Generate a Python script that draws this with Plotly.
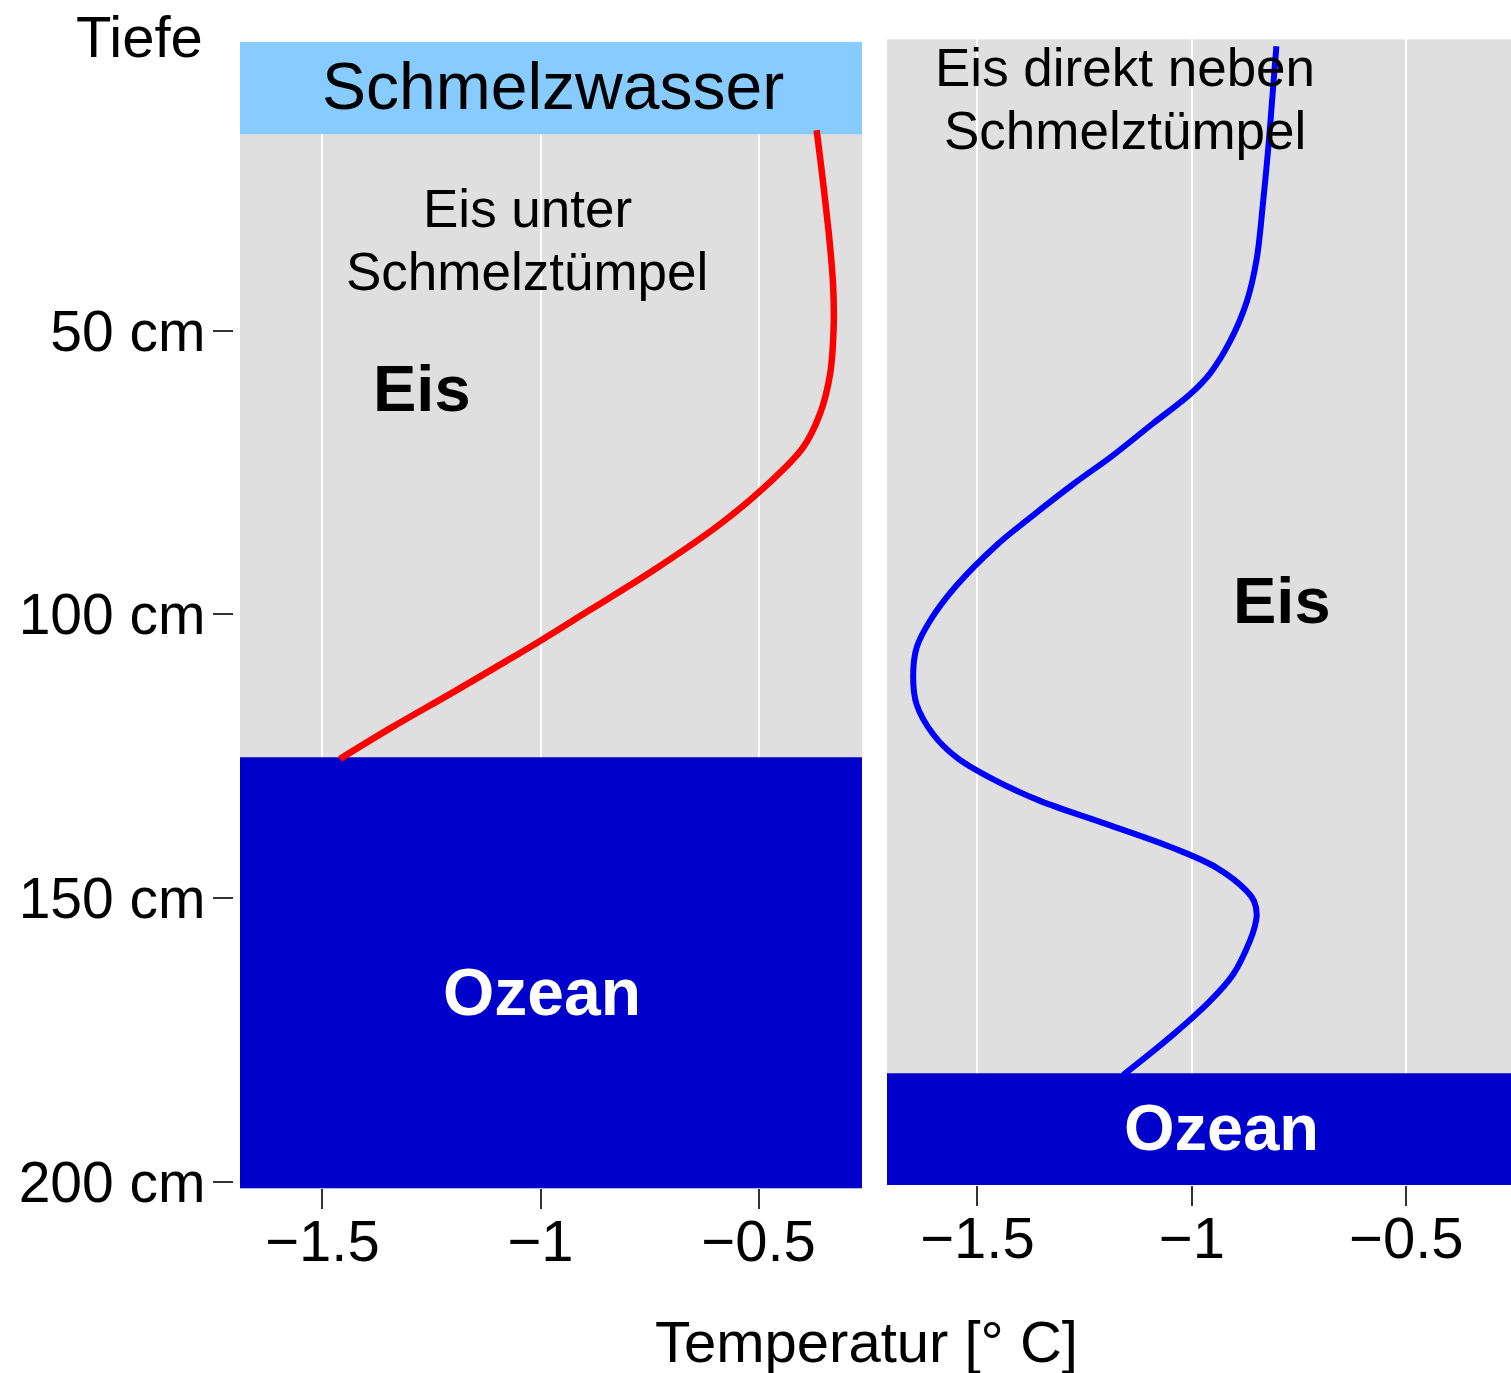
import plotly.graph_objects as go

# ---------------- data ----------------
# left panel: ice under a melt pond
red_depth = [14.7, 24.7, 35.3, 42.4, 49.4, 57.6, 64.6, 70.6, 77.0, 84.1, 92.3,
             99.4, 104.7, 113.5, 119.9, 125.5]
red_temp = [-0.367, -0.351, -0.336, -0.329, -0.328, -0.336, -0.359, -0.398, -0.478,
            -0.588, -0.742, -0.890, -1.001, -1.195, -1.340, -1.460]

# right panel: ice directly next to a melt pond
blue_depth = [-0.1, 6.5, 17.9, 27.3, 37.4, 44.9, 51.9, 57.6, 61.3, 66.4, 72.0, 77.1,
              82.8, 87.8, 95.3, 101.2, 105.9, 111.2, 115.9, 121.2, 125.3, 128.8, 132.9,
              137.0, 141.2, 144.7, 148.8, 150.6, 152.9, 154.9, 157.6, 163.5, 168.2,
              174.1, 181.2]
blue_temp = [-0.803, -0.810, -0.822, -0.834, -0.849, -0.872, -0.911, -0.958, -1.005,
             -1.091, -1.184, -1.277, -1.374, -1.455, -1.553, -1.611, -1.642, -1.650,
             -1.642, -1.603, -1.548, -1.471, -1.354, -1.199, -1.044, -0.942, -0.872,
             -0.855, -0.849, -0.853, -0.865, -0.904, -0.958, -1.044, -1.160]

# layer boundaries (depth in cm)
left_meltwater = [-0.9, 15.4]
left_ocean = [125.2, 201.2]
right_ocean = [180.9, 200.6]

depth_ticks = [50, 100, 150, 200]
depth_labels = ["50 cm", "100 cm", "150 cm", "200 cm"]
temp_ticks = [-1.5, -1, -0.5]

# axis ranges
left_xrange = [-1.689, -0.263]
right_xrange = [-1.711, -0.256]
left_yrange = [201.2, -0.9]
right_yrange = [200.6, -1.3]

FONT = "Liberation Sans, Arial, Helvetica, sans-serif"
W, H = 1511, 1400
VIEW_H = 1373
GRAY = "#DFDFDF"
MELT = "#88CCFF"
OCEAN = "#0000CC"


def fy(py):
    """row in the 1373-px tall picture (from top) -> paper fraction"""
    return 1 - py / VIEW_H


fig = go.Figure()
fig.add_trace(go.Scatter(x=red_temp, y=red_depth, mode="lines", xaxis="x", yaxis="y",
                         line=dict(color="#FF0000", width=6.5, shape="spline", smoothing=1.0),
                         showlegend=False, hoverinfo="skip"))
fig.add_trace(go.Scatter(x=blue_temp, y=blue_depth, mode="lines", xaxis="x2", yaxis="y2",
                         line=dict(color="#0000FF", width=6, shape="spline", smoothing=1.0),
                         showlegend=False, hoverinfo="skip"))

shapes = [
    dict(type="rect", xref="x", yref="y", x0=left_xrange[0], x1=left_xrange[1],
         y0=left_meltwater[0], y1=left_meltwater[1], fillcolor=MELT,
         line=dict(width=0), layer="between"),
    dict(type="rect", xref="x", yref="y", x0=left_xrange[0], x1=left_xrange[1],
         y0=left_ocean[0], y1=left_ocean[1], fillcolor=OCEAN,
         line=dict(width=0), layer="between"),
    dict(type="rect", xref="x2", yref="y2", x0=right_xrange[0], x1=right_xrange[1],
         y0=right_ocean[0], y1=right_ocean[1], fillcolor=OCEAN,
         line=dict(width=0), layer="between"),
]

def ann(text, x, y, xref, yref, size, color="black", bold=False, xanchor="center",
        yanchor="middle"):
    if bold:
        text = "<b>" + text + "</b>"
    return dict(text=text, x=x, y=y, xref=xref, yref=yref, showarrow=False,
                font=dict(family=FONT, size=size, color=color), xanchor=xanchor,
                yanchor=yanchor, align="center")

annotations = [
    ann("Tiefe", 205 / W, fy(36), "paper", "paper", 58, xanchor="right"),
    ann("Schmelzwasser", -0.971, 6.9, "x", "y", 66),
    ann("Eis unter", -1.031, 28.5, "x", "y", 53),
    ann("Schmelztümpel", -1.031, 39.6, "x", "y", 53),
    ann("Eis", -1.272, 60.3, "x", "y", 65, bold=True),
    ann("Ozean", -0.997, 166.6, "x", "y", 66, color="white", bold=True),
    ann("Eis direkt neben", -1.156, 3.7, "x2", "y2", 53),
    ann("Schmelztümpel", -1.156, 14.8, "x2", "y2", 53),
    ann("Eis", -0.790, 97.6, "x2", "y2", 65, bold=True),
    ann("Ozean", -0.932, 190.5, "x2", "y2", 65, color="white", bold=True),
    ann("Temperatur [° C]", 866 / W, fy(1340), "paper", "paper", 58),
]

tickfont = dict(family=FONT, size=58, color="black")

fig.update_layout(
    width=W, height=H, autosize=False,
    margin=dict(l=0, r=0, t=0, b=0, pad=0),
    paper_bgcolor="white", plot_bgcolor=GRAY,
    shapes=shapes, annotations=annotations, showlegend=False,
    xaxis=dict(domain=[240 / W, 862 / W], range=left_xrange, anchor="y",
               tickvals=temp_ticks, ticks="outside", ticklen=20, tickwidth=2,
               tickcolor="#333333", tickfont=tickfont, ticklabelstandoff=-18,
               showgrid=True, gridcolor="white", gridwidth=2, zeroline=False,
               showline=False),
    yaxis=dict(domain=[fy(1186.7), fy(41.7)], range=left_yrange,
               anchor="free", position=233 / W, tickvals=depth_ticks,
               ticktext=depth_labels, ticks="outside", ticklen=20, tickwidth=2,
               tickcolor="#333333", tickfont=dict(family=FONT, size=57, color="black"),
               showgrid=False, zeroline=False, showline=False, ticklabelstandoff=-4),
    xaxis2=dict(domain=[887 / W, 1.0], range=right_xrange, anchor="y2",
                tickvals=temp_ticks, ticks="outside", ticklen=20, tickwidth=2,
                tickcolor="#333333", tickfont=tickfont, ticklabelstandoff=-18,
                showgrid=True, gridcolor="white", gridwidth=2, zeroline=False,
                showline=False),
    yaxis2=dict(domain=[fy(1183.3), fy(39.3)], range=right_yrange,
                anchor="x2", showticklabels=False, ticks="", showgrid=False,
                zeroline=False, showline=False),
)

fig.write_html("out.html", config={"displayModeBar": False, "responsive": False},
               post_script="document.body.style.margin='0';")
